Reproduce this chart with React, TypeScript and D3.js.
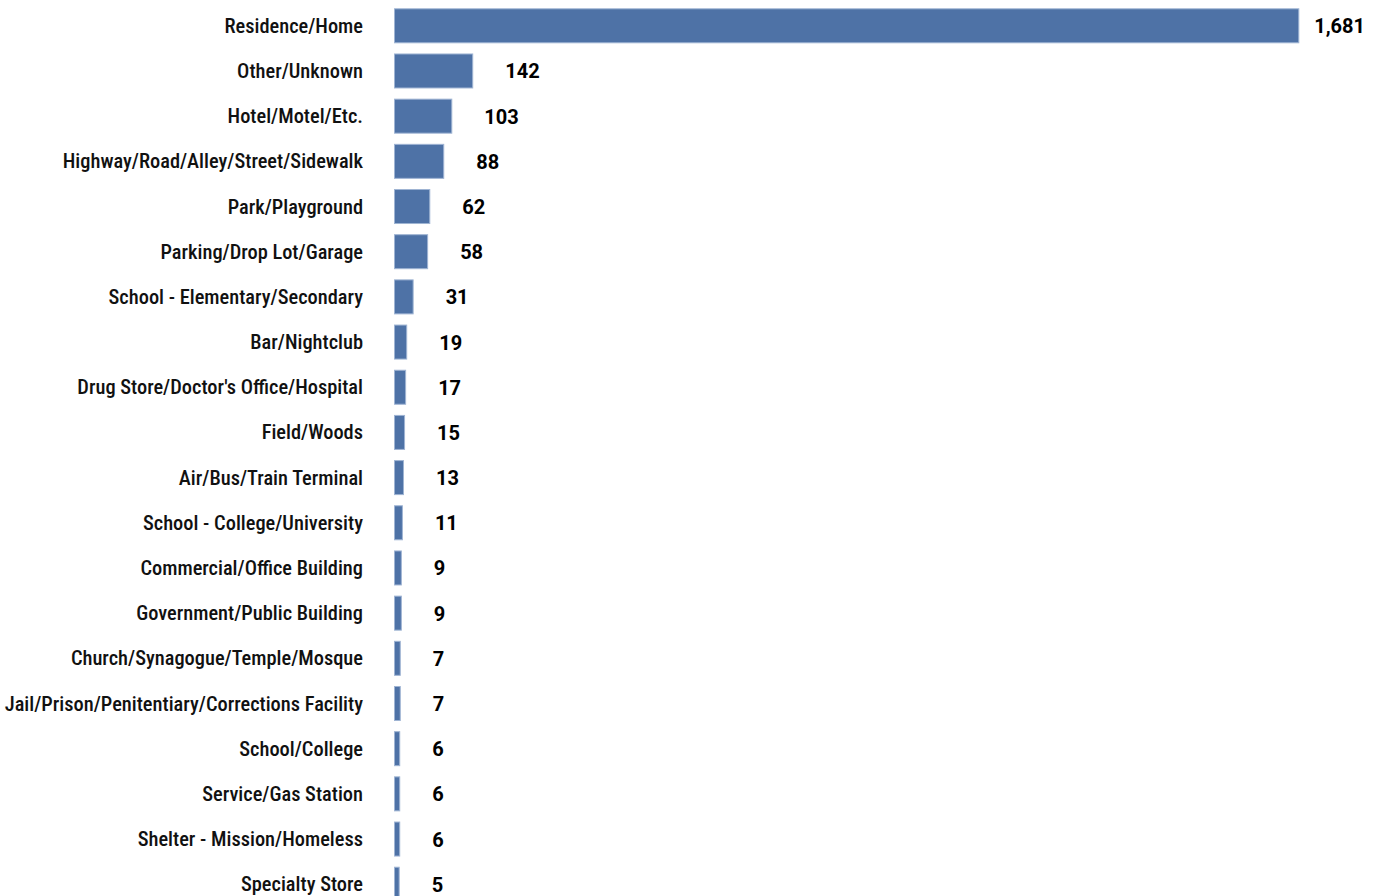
import React from "react";
import * as d3 from "d3";

const categories = [
  "Residence/Home",
  "Other/Unknown",
  "Hotel/Motel/Etc.",
  "Highway/Road/Alley/Street/Sidewalk",
  "Park/Playground",
  "Parking/Drop Lot/Garage",
  "School - Elementary/Secondary",
  "Bar/Nightclub",
  "Drug Store/Doctor's Office/Hospital",
  "Field/Woods",
  "Air/Bus/Train Terminal",
  "School - College/University",
  "Commercial/Office Building",
  "Government/Public Building",
  "Church/Synagogue/Temple/Mosque",
  "Jail/Prison/Penitentiary/Corrections Facility",
  "School/College",
  "Service/Gas Station",
  "Shelter - Mission/Homeless",
  "Specialty Store",
];
const counts = [1681, 142, 103, 88, 62, 58, 31, 19, 17, 15, 13, 11, 9, 9, 7, 7, 6, 6, 6, 5];

const W = 1382;
const H = 896;
const FONT = "'Roboto Condensed', Roboto, 'Liberation Sans', sans-serif";
const VFONT = "Roboto, 'Liberation Sans', sans-serif";
const BAR = "#4e72a6";

export default function App() {
  const step = 45.18;
  const pInner = 1 - 35 / step;
  const pOuter = pInner / 2;
  const r0 = 8.3 - step * pOuter;
  const y = d3
    .scaleBand<string>()
    .domain(categories)
    .range([r0, r0 + step * categories.length])
    .paddingInner(pInner)
    .paddingOuter(pOuter);
  const x = d3.scaleLinear().domain([0, 1681]).range([394, 1296.3]);
  const fmt = d3.format(",");

  return (
    <svg
      width={W}
      height={H}
      style={{ position: "absolute", left: 0, top: 0, overflow: "hidden" }}
    >
      {categories.map((c, i) => {
        const v = counts[i];
        const yb = y(c)!;
        const bw = y.bandwidth();
        const cy = yb + bw / 2;
        const barEnd = x(v) + 3;
        const label = fmt(v);
        const estW = label.length * 10.5;
        let lx = barEnd + 32;
        let anchor: "start" | "end" = "start";
        if (lx + estW > W - 10) {
          lx = W - 17;
          anchor = "end";
        }
        return (
          <g key={c}>
            <text
              x={363}
              y={cy + 7}
              textAnchor="end"
              fontFamily={FONT}
              fontWeight={500}
              fontSize={20.4}
              fill="#111"
            >
              {c}
            </text>
            <rect
              x={x(0) + 0.5}
              y={yb + 0.5}
              width={barEnd - x(0) - 1}
              height={bw - 1}
              fill={BAR}
              stroke="#9fb4d3"
              strokeWidth={1}
            />
            <text
              x={lx}
              y={cy + 7.5}
              textAnchor={anchor}
              fontFamily={VFONT}
              fontWeight={700}
              fontSize={20}
              fill="#000"
            >
              {label}
            </text>
          </g>
        );
      })}
    </svg>
  );
}
